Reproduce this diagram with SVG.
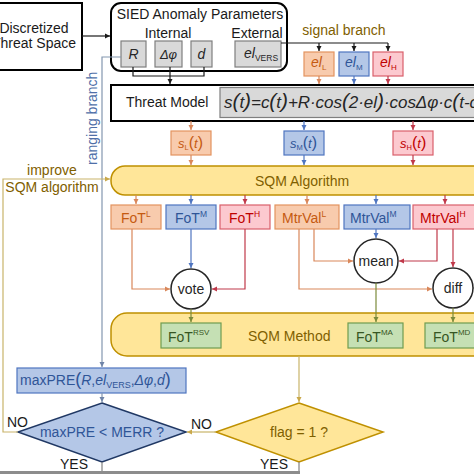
<svg xmlns="http://www.w3.org/2000/svg" width="474" height="474" viewBox="0 0 474 474">
<defs>
<style>
text{font-family:"Liberation Sans",Arial,sans-serif;font-size:14px;fill:#1a1a1a}
.i{font-style:italic}
.c{text-anchor:middle}
.blk{fill:#fff;stroke:#000;stroke-width:2}
.gray{fill:#d9d9d9;stroke:#7f7f7f;stroke-width:1.2}
.or{fill:#f8cbad;stroke:#e3935f;stroke-width:1.2}
.bl{fill:#b4c7e7;stroke:#4f75c0;stroke-width:1.2}
.rd{fill:#fcc9cf;stroke:#d9606b;stroke-width:1.2}
.gr{fill:#c5e0b4;stroke:#6f9c50;stroke-width:1.2}
.ye{fill:#ffe699;stroke:#bf9000;stroke-width:1.5}
.cir{fill:#fff;stroke:#262626;stroke-width:1.5}
.to{fill:#c55a11}.tb{fill:#2f5597}.tr{fill:#c00000}.tg{fill:#375623}.ty{fill:#7f6000}.tk{fill:#262626}
.ln{fill:none;stroke-width:1.2}
.lk{stroke:#1a1a1a;marker-end:url(#ak)}
.lo{stroke:#d9875a;marker-end:url(#ao)}
.lb{stroke:#4f75c0;marker-end:url(#ab)}
.lr{stroke:#c0394a;marker-end:url(#ar)}
.lg{stroke:#7b8a3a;marker-end:url(#ag)}
.lt{stroke:#c9b46a;marker-end:url(#at)}
.ls{stroke:#8497b0;marker-end:url(#as)}
</style>
<marker id="ak" markerWidth="6" markerHeight="6" refX="5" refY="3" orient="auto" markerUnits="userSpaceOnUse"><path d="M0,0.5L5,3L0,5.5z" fill="#1a1a1a"/></marker>
<marker id="ao" markerWidth="6" markerHeight="6" refX="5" refY="3" orient="auto" markerUnits="userSpaceOnUse"><path d="M0,0.5L5,3L0,5.5z" fill="#d9875a"/></marker>
<marker id="ab" markerWidth="6" markerHeight="6" refX="5" refY="3" orient="auto" markerUnits="userSpaceOnUse"><path d="M0,0.5L5,3L0,5.5z" fill="#4f75c0"/></marker>
<marker id="ar" markerWidth="6" markerHeight="6" refX="5" refY="3" orient="auto" markerUnits="userSpaceOnUse"><path d="M0,0.5L5,3L0,5.5z" fill="#c0394a"/></marker>
<marker id="ag" markerWidth="6" markerHeight="6" refX="5" refY="3" orient="auto" markerUnits="userSpaceOnUse"><path d="M0,0.5L5,3L0,5.5z" fill="#7b8a3a"/></marker>
<marker id="at" markerWidth="6" markerHeight="6" refX="5" refY="3" orient="auto" markerUnits="userSpaceOnUse"><path d="M0,0.5L5,3L0,5.5z" fill="#c9a84a"/></marker>
<marker id="as" markerWidth="6" markerHeight="6" refX="5" refY="3" orient="auto" markerUnits="userSpaceOnUse"><path d="M0,0.5L5,3L0,5.5z" fill="#6f84a8"/></marker>
</defs>
<rect width="474" height="474" fill="#fff"/>

<!-- big containers -->
<g id="discretized">
<rect class="blk" x="-5" y="3" width="87" height="67"/>
<text class="c" x="34" y="33">Discretized</text>
<text class="c" x="34" y="48">Threat Space</text>
</g>
<g id="sied">
<rect class="blk" x="111" y="3" width="176" height="68" rx="10"/>
<text class="c" x="200" y="19">SIED Anomaly Parameters</text>
<text class="c" x="168" y="38">Internal</text>
<text class="c" x="257" y="38">External</text>
</g>
<g id="p-R"><rect class="gray" x="121" y="41" width="25" height="26"/><text class="c i tk" x="133.5" y="59">R</text></g>
<g id="p-dphi"><rect class="gray" x="155" y="41" width="27" height="26"/><text class="c i tk" x="168.5" y="59" style="font-size:13px">Δφ</text></g>
<g id="p-d"><rect class="gray" x="191" y="41" width="21" height="26"/><text class="c i tk" x="201.5" y="59">d</text></g>
<g id="p-elvers"><rect class="gray" x="235" y="41" width="46" height="26"/><text class="tk" x="244" y="58"><tspan class="i">el</tspan><tspan dy="3" style="font-size:8.5px">VERS</tspan></text></g>

<g id="threat-model">
<rect class="blk" x="111" y="85" width="380" height="36"/>
<text x="126" y="107">Threat Model</text>
<rect class="gray" x="220" y="87.5" width="270" height="30"/>
<text class="i tk" x="224" y="108" style="font-size:17px" textLength="254" lengthAdjust="spacing">s<tspan style="font-size:21px">(</tspan>t<tspan style="font-size:21px">)</tspan>=c<tspan style="font-size:21px">(</tspan>t<tspan style="font-size:21px">)</tspan>+R·cos<tspan style="font-size:21px">(</tspan>2·el<tspan style="font-size:21px">)</tspan>·cosΔφ·c<tspan style="font-size:21px">(</tspan>t-c</text>
</g>

<text x="344" y="35" class="c ty">signal branch</text>
<g id="el-L"><rect class="or" x="304" y="52" width="30" height="24"/><text class="to" x="311" y="67"><tspan class="i">el</tspan><tspan dy="3" style="font-size:8px">L</tspan></text></g>
<g id="el-M"><rect class="bl" x="339" y="52" width="30" height="24"/><text class="tb" x="345" y="67"><tspan class="i">el</tspan><tspan dy="3" style="font-size:8px">M</tspan></text></g>
<g id="el-H"><rect class="rd" x="373" y="52" width="30" height="24"/><text class="tr" x="380" y="67"><tspan class="i">el</tspan><tspan dy="3" style="font-size:8px">H</tspan></text></g>

<g id="s-L"><rect class="or" x="171" y="131" width="40" height="24"/><text class="to i" x="178" y="148" style="font-size:13px">s<tspan dy="2" style="font-size:7.5px;font-style:normal">L</tspan><tspan dy="-2" style="font-size:16px;font-style:normal">(</tspan>t<tspan style="font-size:16px;font-style:normal">)</tspan></text></g>
<g id="s-M"><rect class="bl" x="284" y="131" width="40" height="24"/><text class="tb i" x="290" y="148" style="font-size:13px">s<tspan dy="2" style="font-size:7.5px;font-style:normal">M</tspan><tspan dy="-2" style="font-size:16px;font-style:normal">(</tspan>t<tspan style="font-size:16px;font-style:normal">)</tspan></text></g>
<g id="s-H"><rect class="rd" x="393" y="131" width="40" height="24"/><text class="tr i" x="400" y="148" style="font-size:13px">s<tspan dy="2" style="font-size:7.5px;font-style:normal">H</tspan><tspan dy="-2" style="font-size:16px;font-style:normal">(</tspan>t<tspan style="font-size:16px;font-style:normal">)</tspan></text></g>

<g id="sqm-algorithm">
<rect class="ye" x="111" y="166" width="380" height="29" rx="14"/>
<text class="ty" x="255" y="186">SQM Algorithm</text>
</g>

<g id="fot-L"><rect class="or" x="111" y="205" width="50" height="24"/><text class="to" x="121" y="223">FoT<tspan dy="-6" style="font-size:8.5px">L</tspan></text></g>
<g id="fot-M"><rect class="bl" x="166" y="205" width="50" height="24"/><text class="tb" x="175" y="223">FoT<tspan dy="-6" style="font-size:8.5px">M</tspan></text></g>
<g id="fot-H"><rect class="rd" x="220" y="205" width="50" height="24"/><text class="tr" x="229" y="223">FoT<tspan dy="-6" style="font-size:8.5px">H</tspan></text></g>
<g id="mtr-L"><rect class="or" x="275" y="205" width="64" height="24"/><text class="to" x="282" y="223">MtrVal<tspan dy="-6" style="font-size:8.5px">L</tspan></text></g>
<g id="mtr-M"><rect class="bl" x="344" y="205" width="66" height="24"/><text class="tb" x="350" y="223">MtrVal<tspan dy="-6" style="font-size:8.5px">M</tspan></text></g>
<g id="mtr-H"><rect class="rd" x="413" y="205" width="64" height="24"/><text class="tr" x="420" y="223">MtrVal<tspan dy="-6" style="font-size:8.5px">H</tspan></text></g>

<g id="vote"><circle class="cir" cx="191" cy="289" r="20"/><text class="c tk" x="191" y="294">vote</text></g>
<g id="mean"><circle class="cir" cx="376" cy="261" r="22"/><text class="c tk" x="376" y="266">mean</text></g>
<g id="diff"><circle class="cir" cx="453" cy="288" r="20"/><text class="c tk" x="453" y="293">diff</text></g>

<g id="sqm-method">
<rect class="ye" x="111" y="313" width="380" height="43" rx="16"/>
<text class="ty" x="248" y="341">SQM Method</text>
</g>
<g id="fot-rsv"><rect class="gr" x="161" y="323" width="60" height="25"/><text class="tg" x="168" y="342">FoT<tspan dy="-7" style="font-size:8px">RSV</tspan></text></g>
<g id="fot-ma"><rect class="gr" x="348" y="323" width="55" height="25"/><text class="tg" x="356" y="342">FoT<tspan dy="-7" style="font-size:8px">MA</tspan></text></g>
<g id="fot-md"><rect class="gr" x="425" y="323" width="55" height="25"/><text class="tg" x="433" y="342">FoT<tspan dy="-7" style="font-size:8px">MD</tspan></text></g>

<g id="maxpre">
<rect class="bl" x="17" y="368" width="169" height="25"/>
<text class="tb" x="20" y="385">maxPRE<tspan style="font-size:18px">(</tspan><tspan class="i">R</tspan>,<tspan class="i">el</tspan><tspan dy="3" style="font-size:9px">VERS</tspan><tspan dy="-3">,</tspan><tspan class="i">Δφ</tspan>,<tspan class="i">d</tspan><tspan style="font-size:18px">)</tspan></text>
</g>
<g id="dec-merr">
<polygon points="102,403 186,432 102,462 18,432" fill="#b4c7e7" stroke="#203864" stroke-width="1.5"/>
<text class="c tb" x="102" y="437">maxPRE &lt; MERR ?</text>
</g>
<g id="dec-flag">
<polygon points="299,403 383,432 299,462 216,432" fill="#ffe699" stroke="#bf9000" stroke-width="1.5"/>
<text class="c ty" x="299" y="437">flag = 1 ?</text>
</g>

<g id="connectors">
<path class="ln lk" d="M82,36H110"/>
<path class="ln" stroke="#1a1a1a" d="M133,67V76H204V67"/>
<path class="ln lk" d="M170,67V84"/>
<path class="ln" stroke="#1a1a1a" d="M281,43H388"/>
<path class="ln lk" d="M319,43V51"/>
<path class="ln lk" d="M354,43V51"/>
<path class="ln lk" d="M388,43V51"/>
<path class="ln lo" d="M319,76V84"/>
<path class="ln lb" d="M354,76V84"/>
<path class="ln lr" d="M388,76V84"/>
<path class="ln lo" d="M191,121V130"/>
<path class="ln lb" d="M304,121V130"/>
<path class="ln lr" d="M413,121V130"/>
<path class="ln lo" d="M191,155V165"/>
<path class="ln lb" d="M304,155V165"/>
<path class="ln lr" d="M413,155V165"/>
<path class="ln lo" d="M136,195V204"/>
<path class="ln lb" d="M191,195V204"/>
<path class="ln lr" d="M245,195V204"/>
<path class="ln lo" d="M307,195V204"/>
<path class="ln lb" d="M376,195V204"/>
<path class="ln lr" d="M445,195V204"/>
<path class="ln lo" d="M132,229V289H170"/>
<path class="ln lb" d="M191,229V268"/>
<path class="ln lr" d="M245,229V289H212"/>
<path class="ln lo" d="M314,229V261H353"/>
<path class="ln lo" d="M299,229V289H432"/>
<path class="ln lb" d="M376,229V238"/>
<path class="ln lr" d="M437,229V261H399"/>
<path class="ln lr" d="M453,229V267"/>
<path class="ln" stroke="#404040" stroke-width="3" d="M473,288H480"/>
<path class="ln lg" d="M191,309V322"/>
<path class="ln lg" d="M376,283V322"/>
<path class="ln lg" d="M453,308V322"/>
<path class="ln lt" d="M299,356V402"/>
<path class="ln ls" d="M121,57H102V367"/>
<path class="ln ls" d="M102,393V402"/>
<path class="ln lt" d="M18,432H3V179H110"/>
<path class="ln lt" d="M216,432H187"/>
<path class="ln" stroke="#808080" d="M102,462V474"/>
<path class="ln" stroke="#808080" d="M299,462V474"/>
</g>

<text x="0" y="0" transform="translate(97,165) rotate(-90)" style="fill:#4f6fa8">ranging branch</text>
<text class="c ty" x="52" y="175">improve</text>
<text class="c ty" x="52" y="192">SQM algorithm</text>
<text x="7" y="427">NO</text>
<text x="191" y="429">NO</text>
<text x="60" y="469">YES</text>
<text x="260" y="469">YES</text>
<rect x="-2" y="471" width="302" height="5" fill="#8c8c8c"/>
</svg>
